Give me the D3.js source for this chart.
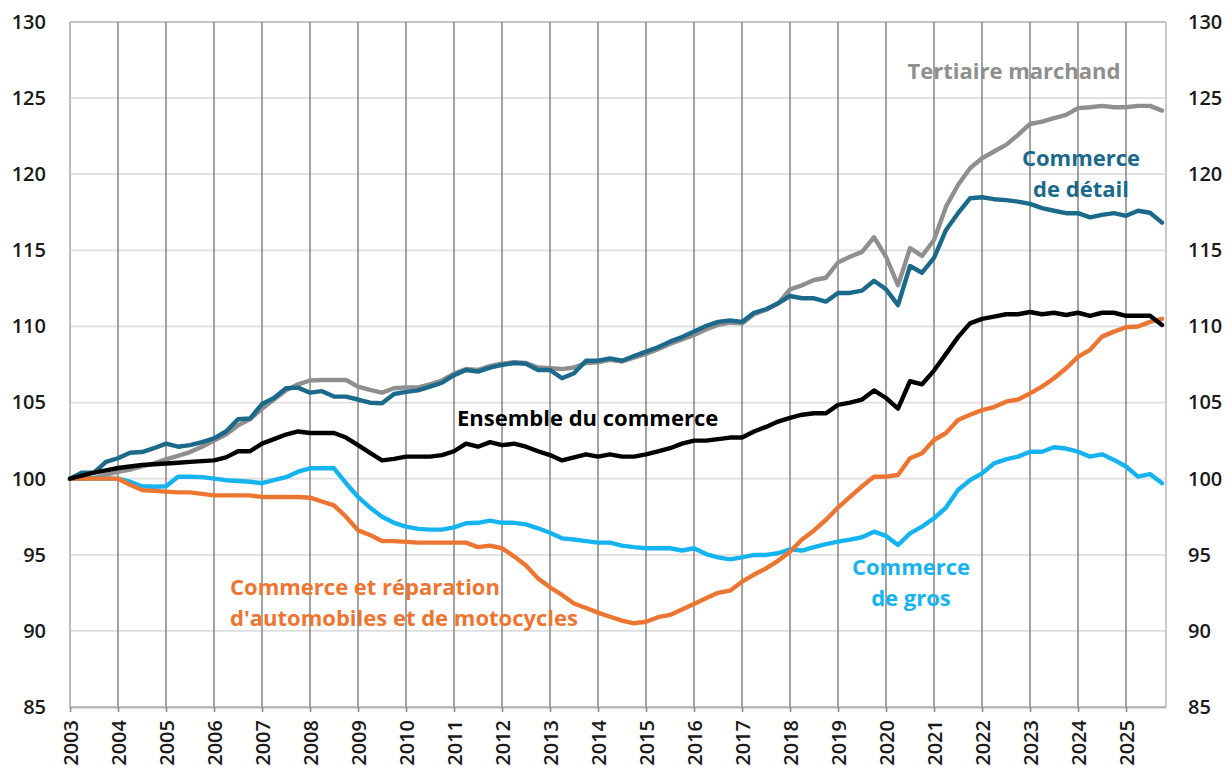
<!DOCTYPE html>
<html><head><meta charset="utf-8">
<script src="https://cdn.jsdelivr.net/npm/d3@7/dist/d3.min.js"></script>
<style>
html,body{margin:0;padding:0;background:#fff;}
svg{display:block;font-family:"Open Sans",sans-serif;}
</style></head>
<body><svg id="chart" width="1229" height="771"></svg>
<script>
// quarterly data, 2003Q1 .. 2025Q4
const startYear = 2003;
const yearTicks = d3.range(2003, 2026);
const yTicks = [85, 90, 95, 100, 105, 110, 115, 120, 125, 130];

const tertiaire = [
100,100.0,100.05,100.25, 100.45,100.6,100.8,101.0, 101.27,101.5,101.75,102.1,
102.5,102.9,103.5,103.9, 104.6,105.2,105.8,106.2, 106.45,106.48,106.48,106.48,
106.05,105.83,105.65,105.94, 106.0,106.0,106.2,106.45, 106.9,107.2,107.15,107.4,
107.55,107.65,107.6,107.3, 107.25,107.2,107.3,107.6, 107.65,107.8,107.7,107.95,
108.2,108.5,108.85,109.15, 109.44,109.8,110.1,110.25, 110.2,110.8,111.1,111.5,
112.44,112.7,113.05,113.2, 114.2,114.58,114.9,115.86, 114.58,112.7,115.14,114.63,
115.68,117.87,119.29,120.39, 121.05,121.49,121.93,122.58, 123.3,123.45,123.68,123.9,
124.34,124.4,124.49,124.4, 124.4,124.49,124.49,124.18];

const detail = [
100,100.4,100.4,101.1, 101.34,101.7,101.75,102.0, 102.3,102.1,102.2,102.4,
102.65,103.1,103.9,103.95, 104.9,105.3,105.94,105.98, 105.65,105.75,105.39,105.39,
105.2,104.99,104.95,105.56, 105.7,105.8,106.05,106.3, 106.8,107.14,107.03,107.3,
107.47,107.6,107.55,107.14, 107.14,106.6,106.92,107.75, 107.75,107.9,107.75,108.06,
108.35,108.63,109.0,109.3, 109.66,110.03,110.3,110.4, 110.3,110.9,111.13,111.52,
112.0,111.85,111.85,111.63, 112.2,112.2,112.35,113.0, 112.44,111.4,113.97,113.53,
114.5,116.34,117.44,118.42, 118.49,118.36,118.3,118.2, 118.05,117.77,117.6,117.44,
117.44,117.17,117.33,117.44, 117.27,117.6,117.47,116.82];

const gros = [
100,100,100,100, 100.0,99.8,99.5,99.47, 99.5,100.13,100.13,100.1,
100.0,99.9,99.85,99.8, 99.7,99.9,100.1,100.46, 100.68,100.68,100.68,99.7,
98.8,98.1,97.5,97.1, 96.85,96.7,96.65,96.65, 96.8,97.07,97.1,97.24,
97.1,97.1,97.0,96.74, 96.45,96.08,96.0,95.9, 95.8,95.8,95.6,95.5,
95.43,95.43,95.43,95.28, 95.43,95.05,94.83,94.7, 94.83,94.99,94.99,95.1,
95.36,95.28,95.5,95.7, 95.86,96.0,96.15,96.52, 96.24,95.64,96.41,96.85,
97.4,98.1,99.26,99.9, 100.35,101.0,101.27,101.45, 101.77,101.77,102.06,101.98,
101.77,101.45,101.6,101.23, 100.8,100.13,100.3,99.7];

const auto = [
100,100,100,100, 100.0,99.6,99.25,99.2, 99.15,99.1,99.1,99.0,
98.9,98.9,98.9,98.9, 98.8,98.8,98.8,98.8, 98.75,98.5,98.25,97.5,
96.6,96.3,95.9,95.9, 95.85,95.8,95.8,95.8, 95.8,95.8,95.5,95.6,
95.43,94.9,94.3,93.45, 92.86,92.36,91.8,91.5, 91.2,90.93,90.67,90.5,
90.6,90.9,91.05,91.4, 91.77,92.14,92.5,92.64, 93.23,93.7,94.1,94.6,
95.2,96.0,96.6,97.3, 98.1,98.8,99.5,100.13, 100.13,100.24,101.34,101.67,
102.54,103.0,103.86,104.2, 104.5,104.7,105.06,105.2, 105.6,106.05,106.6,107.25,
108.0,108.46,109.33,109.66, 109.95,110.0,110.3,110.5];

const ensemble = [
100,100.2,100.4,100.55, 100.7,100.8,100.9,100.95, 101.0,101.05,101.1,101.15,
101.2,101.4,101.8,101.8, 102.3,102.6,102.9,103.1, 103.0,103.0,103.0,102.7,
102.2,101.7,101.2,101.3, 101.45,101.45,101.45,101.55, 101.8,102.3,102.1,102.4,
102.2,102.3,102.1,101.8, 101.55,101.2,101.4,101.6, 101.45,101.6,101.45,101.45,
101.6,101.8,102.0,102.3, 102.5,102.5,102.6,102.7, 102.7,103.1,103.4,103.75,
104.0,104.2,104.3,104.3, 104.85,105.0,105.2,105.8, 105.3,104.6,106.4,106.2,
107.1,108.2,109.3,110.2, 110.5,110.65,110.8,110.8, 110.95,110.8,110.9,110.75,
110.9,110.7,110.9,110.9, 110.7,110.7,110.7,110.1];

const seriesNames = ["Tertiaire marchand","Commerce de détail","Commerce de gros","Commerce et réparation d'automobiles et de motocycles","Ensemble du commerce"];
const seriesValues = [tertiaire, detail, gros, auto, ensemble];
const seriesColors = ["#8f8f8f", "#1b6a8c", "#16b4ee", "#ed7532", "#000000"];

const svg = d3.select("#chart");
const L = 70, R = 1166, T = 22, B = 707;
const x = d3.scaleLinear().domain([2003, 2025.833]).range([L, R]);
const y = d3.scaleLinear().domain([85, 130]).range([B, T]);

// horizontal gridlines
svg.append("g").selectAll("line").data(yTicks).join("line")
  .attr("x1", L).attr("x2", R).attr("y1", d => y(d)).attr("y2", d => y(d))
  .attr("stroke", d => (d === 130 || d === 85) ? "#c4c4c4" : "#dedede")
  .attr("stroke-width", d => (d === 130) ? 2.2 : 1.8);

// vertical gridlines
svg.append("g").selectAll("line").data(yearTicks.slice(1)).join("line")
  .attr("x1", d => x(d)).attr("x2", d => x(d)).attr("y1", T).attr("y2", B)
  .attr("stroke", "#8c8c8c").attr("stroke-width", 1.6);
// borders
svg.append("line").attr("x1", L).attr("x2", L).attr("y1", T).attr("y2", B)
  .attr("stroke", "#b5b5b5").attr("stroke-width", 1.8);
svg.append("line").attr("x1", R).attr("x2", R).attr("y1", T).attr("y2", B)
  .attr("stroke", "#c4c4c4").attr("stroke-width", 1.8);

// x axis
const xAxis = d3.axisBottom(x).tickValues(yearTicks).tickFormat(d3.format("d")).tickSize(5).tickSizeOuter(0);
const gx = svg.append("g").attr("transform", `translate(0,${B})`).call(xAxis);
gx.select(".domain").attr("stroke", "#b5b5b5").attr("stroke-width", 1.8);
gx.selectAll(".tick line").attr("stroke", "#8c8c8c").attr("stroke-width", 1.6);
gx.selectAll(".tick text")
  .attr("font-family", "'Open Sans', sans-serif").attr("font-size", 20).attr("font-weight", 600)
  .attr("fill", "#1a1a1a")
  .attr("transform", "rotate(-90)")
  .attr("text-anchor", "end").attr("x", -13).attr("y", 0).attr("dy", "0.35em");

// y axes left and right
const yLeft = d3.axisLeft(y).tickValues(yTicks).tickSize(0);
const gl = svg.append("g").attr("transform", `translate(${L},0)`).call(yLeft);
gl.select(".domain").remove();
gl.selectAll("text").attr("x", -24).attr("font-family", "'Open Sans', sans-serif")
  .attr("font-size", 20).attr("font-weight", 600).attr("fill", "#1a1a1a");

const yRight = d3.axisRight(y).tickValues(yTicks).tickSize(0);
const gr = svg.append("g").attr("transform", `translate(${R},0)`).call(yRight);
gr.select(".domain").remove();
gr.selectAll("text").attr("x", 22).attr("font-family", "'Open Sans', sans-serif")
  .attr("font-size", 20).attr("font-weight", 600).attr("fill", "#1a1a1a");

// lines
const line = d3.line().x((d, i) => x(startYear + i / 4)).y(d => y(d));
svg.append("g").selectAll("path").data(seriesValues).join("path")
  .attr("d", d => line(d))
  .attr("fill", "none")
  .attr("stroke", (d, i) => seriesColors[i])
  .attr("stroke-width", 4.4)
  .attr("stroke-linejoin", "round").attr("stroke-linecap", "round");

// labels
const labels = [
  {lines: ["Tertiaire marchand"], x: 1014, y: 71, anchor: "middle", color: seriesColors[0]},
  {lines: ["Commerce", "de détail"], x: 1081, y: 158, anchor: "middle", color: seriesColors[1]},
  {lines: ["Ensemble du commerce"], x: 457, y: 418, anchor: "start", color: seriesColors[4]},
  {lines: ["Commerce et réparation", "d'automobiles et de motocycles"], x: 230, y: 587, anchor: "start", color: seriesColors[3]},
  {lines: ["Commerce", "de gros"], x: 911, y: 567, anchor: "middle", color: seriesColors[2]}
];
labels.forEach(lb => {
  const t = svg.append("text")
    .attr("font-family", "'Open Sans', sans-serif").attr("font-size", 22).attr("font-weight", 700)
    .attr("fill", lb.color).attr("text-anchor", lb.anchor);
  lb.lines.forEach((s, k) => {
    t.append("tspan").attr("x", lb.x).attr("y", lb.y + k * 31).attr("dy", "0.35em").text(s);
  });
});
</script></body></html>
